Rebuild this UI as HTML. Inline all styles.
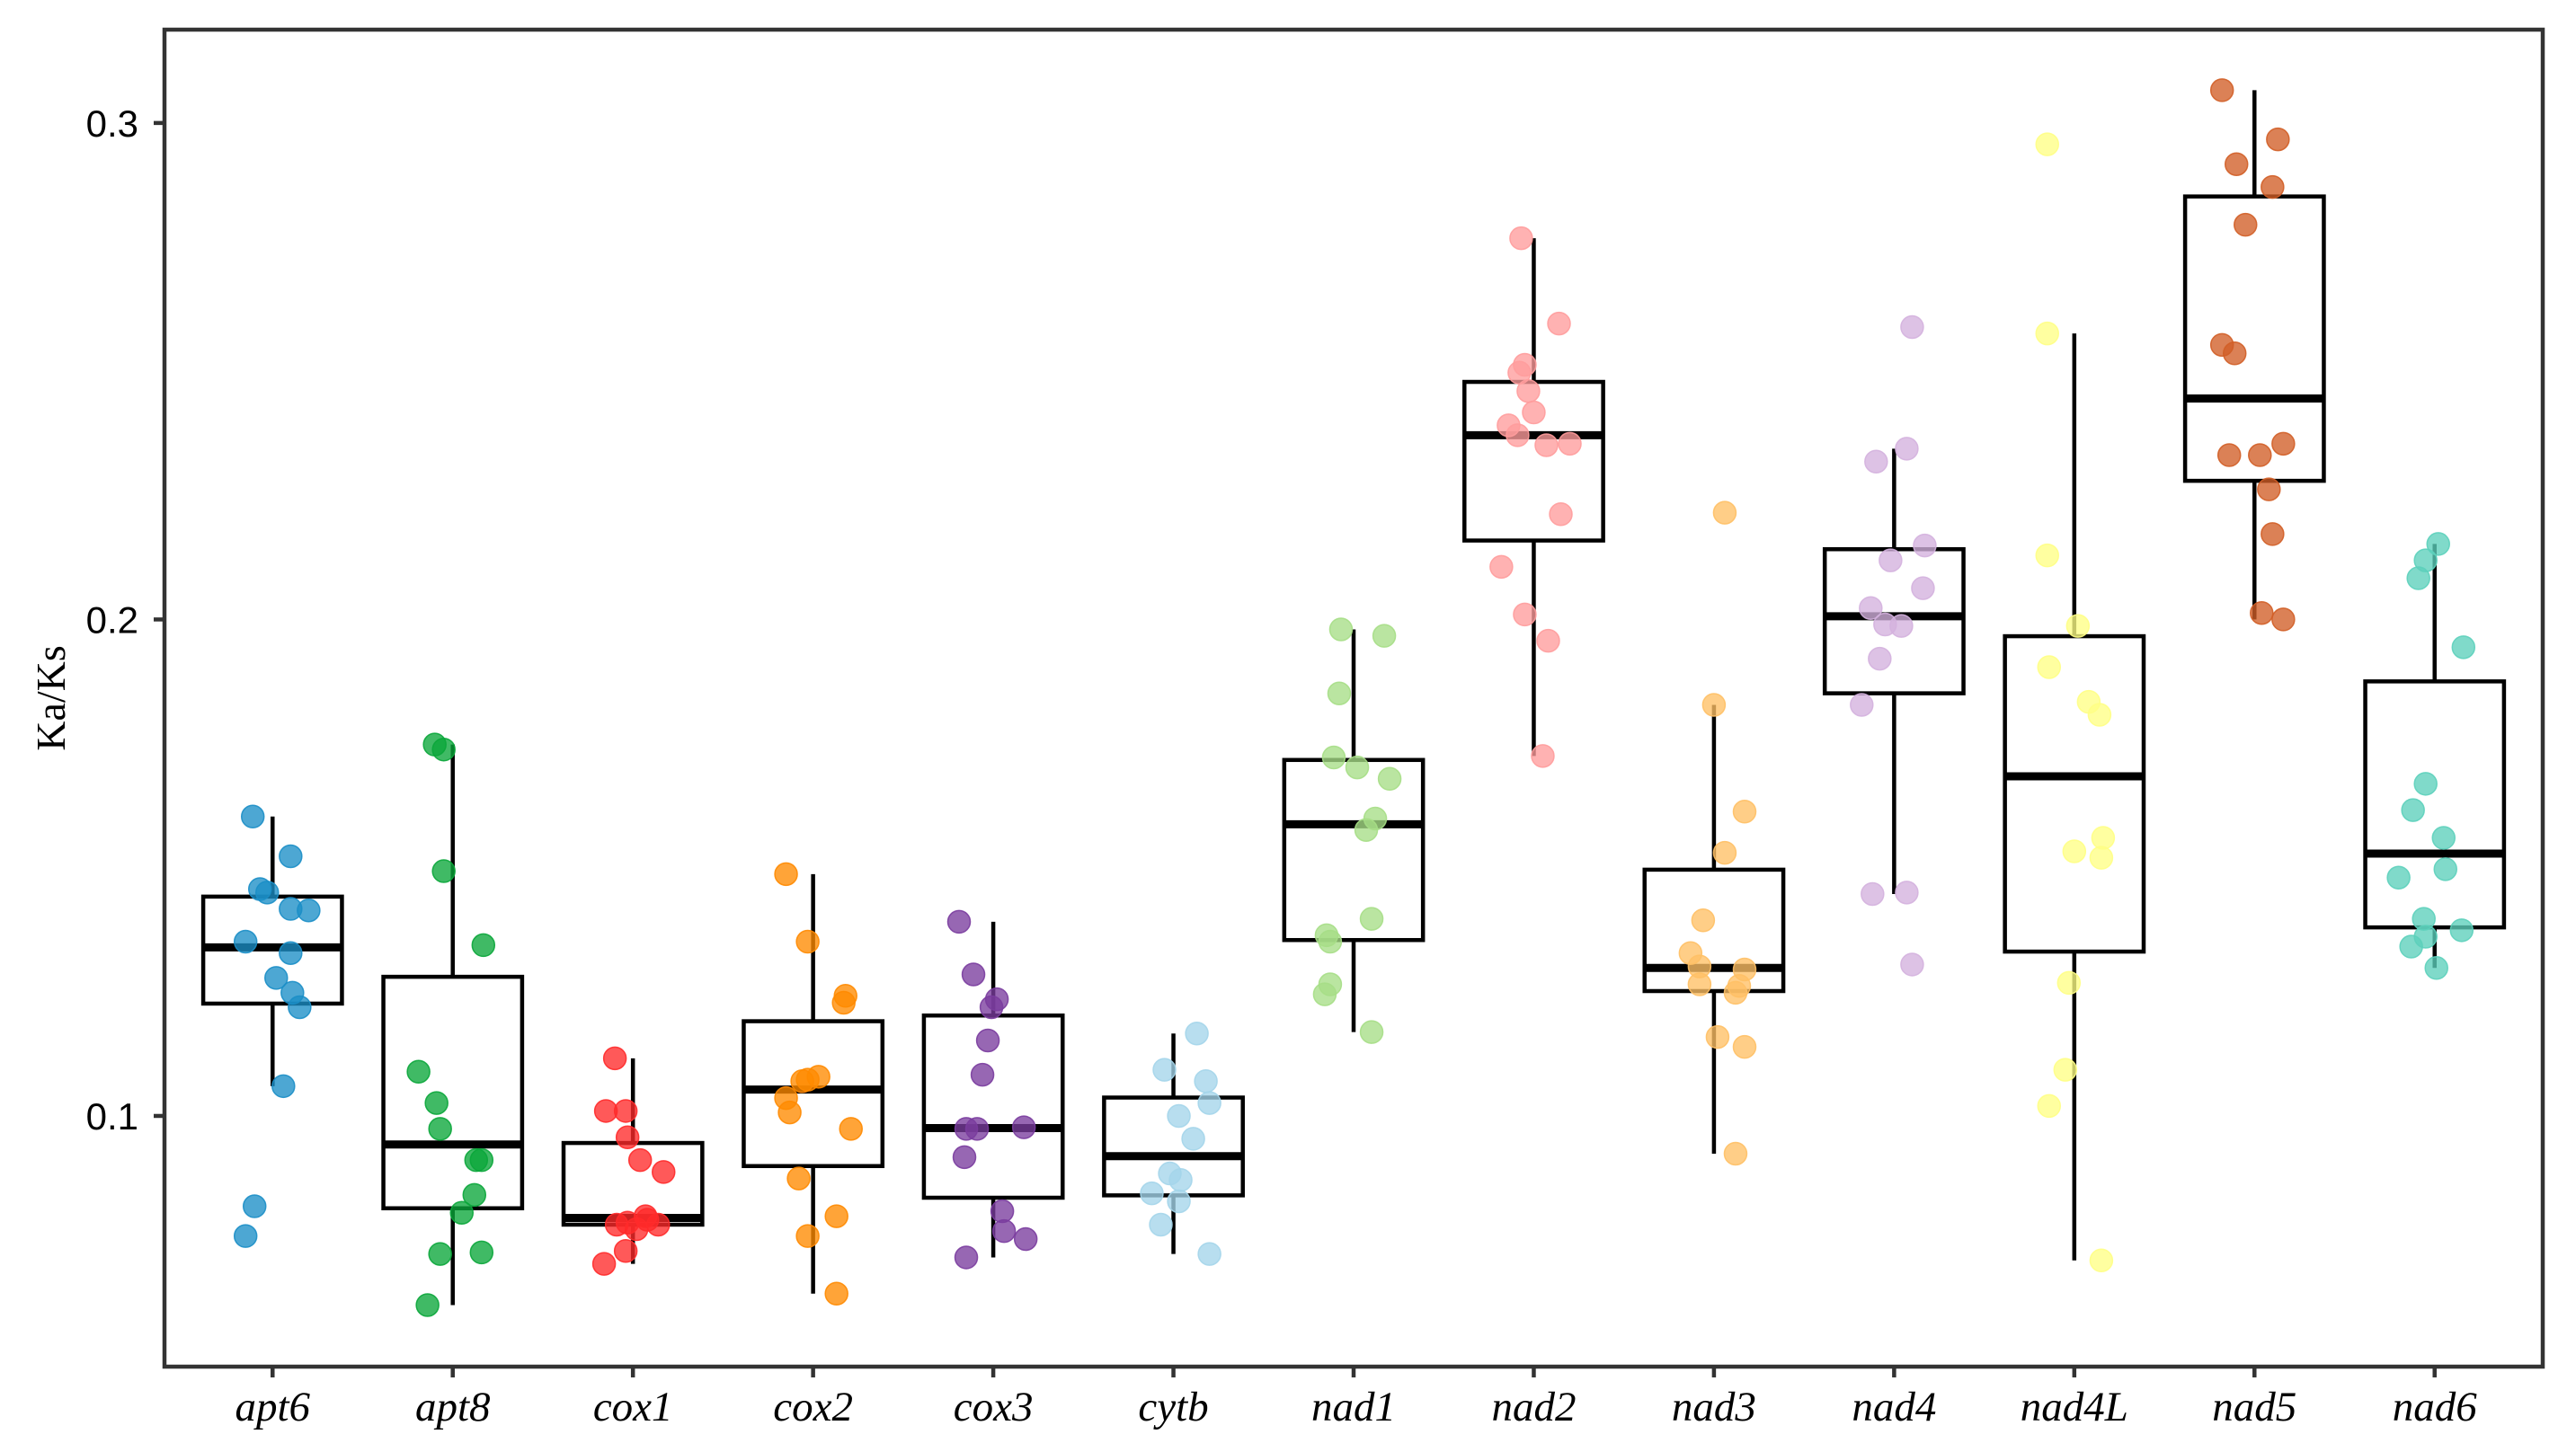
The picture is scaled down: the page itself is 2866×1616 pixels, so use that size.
<!DOCTYPE html>
<html><head><meta charset="utf-8"><style>
html,body{margin:0;padding:0;background:#fff;}
svg{display:block;}
</style></head><body>
<svg id="chart" width="2866" height="1616" viewBox="0 0 2866 1616" xmlns="http://www.w3.org/2000/svg"></svg>
<script>
const categories = ["apt6","apt8","cox1","cox2","cox3","cytb","nad1","nad2","nad3","nad4","nad4L","nad5","nad6"];
const colors = ["#1b8ec6","#0aa63a","#ff2a2a","#ff8a00","#7a3c9e","#a4d5ea","#a6de86","#ff9c9c","#ffc065","#d4b1de","#ffff85","#d15e26","#5cd0bb"];
const yTicks = [0.1,0.2,0.3];
const yTickLabels = ["0.1","0.2","0.3"];
const vApt6 = [0.1603,0.1457,0.1450,0.1523,0.1351,0.1417,0.1414,0.1328,0.1278,0.1248,0.1219,0.1060,0.0818,0.0758];
const vApt8 = [0.1748,0.1738,0.1493,0.1344,0.1089,0.1026,0.0974,0.0911,0.0911,0.0841,0.0805,0.0725,0.0722,0.0619];
const vCox1 = [0.1116,0.1010,0.1010,0.0957,0.0911,0.0887,0.0785,0.0791,0.0798,0.0781,0.0781,0.0772,0.0728,0.0702];
const vCox2 = [0.1487,0.1351,0.1242,0.1228,0.1079,0.1073,0.1070,0.1036,0.1007,0.0974,0.0874,0.0798,0.0758,0.0642];
const vCox3 = [0.1391,0.1285,0.1235,0.1219,0.1152,0.1083,0.0974,0.0974,0.0977,0.0917,0.0808,0.0768,0.0752,0.0715];
const vCytb = [0.1166,0.1093,0.1070,0.1026,0.1000,0.0954,0.0884,0.0871,0.0844,0.0828,0.0781,0.0722];
const vNad1 = [0.1980,0.1967,0.1851,0.1722,0.1702,0.1679,0.1599,0.1576,0.1397,0.1364,0.1351,0.1265,0.1245,0.1169];
const vNad2 = [0.2768,0.2596,0.2513,0.2497,0.2460,0.2417,0.2391,0.2354,0.2351,0.2371,0.2212,0.2106,0.2010,0.1957,0.1725];
const vNad3 = [0.2215,0.1828,0.1613,0.1530,0.1394,0.1328,0.1301,0.1295,0.1265,0.1248,0.1262,0.1159,0.1139,0.0924];
const vNad4 = [0.2589,0.2344,0.2318,0.2149,0.2119,0.2023,0.2063,0.1990,0.1987,0.1921,0.1828,0.1447,0.1450,0.1305];
const vNad4L = [0.2957,0.2576,0.2129,0.1987,0.1904,0.1834,0.1808,0.1560,0.1533,0.1520,0.1268,0.1093,0.1020,0.0709];
const vNad5 = [0.3066,0.2967,0.2917,0.2871,0.2795,0.2553,0.2536,0.2331,0.2331,0.2354,0.2262,0.2172,0.2013,0.2000];
const vNad6 = [0.2152,0.2119,0.2083,0.1944,0.1669,0.1616,0.1560,0.1497,0.1480,0.1397,0.1374,0.1361,0.1341,0.1298];
const jApt6 = [-0.11,-0.07,-0.03,0.10,-0.15,0.10,0.20,0.10,0.02,0.11,0.15,0.06,-0.10,-0.15];
const jApt8 = [-0.10,-0.05,-0.05,0.17,-0.19,-0.09,-0.07,0.13,0.16,0.12,0.05,0.16,-0.07,-0.14];
const jCox1 = [-0.10,-0.04,-0.15,-0.03,0.04,0.17,-0.03,0.08,0.07,0.14,-0.09,0.02,-0.04,-0.16];
const jCox2 = [-0.15,-0.03,0.18,0.17,0.03,-0.03,-0.06,-0.15,-0.13,0.21,-0.08,0.13,-0.03,0.13];
const jCox3 = [-0.19,-0.11,0.02,-0.01,-0.03,-0.06,-0.15,-0.09,0.17,-0.16,0.05,0.06,0.18,-0.15];
const jCytb = [0.13,-0.05,0.18,0.20,0.03,0.11,-0.02,0.04,-0.12,0.03,-0.07,0.20];
const jNad1 = [-0.07,0.17,-0.08,-0.11,0.02,0.20,0.12,0.07,0.10,-0.15,-0.13,-0.13,-0.16,0.10];
const jNad2 = [-0.07,0.14,-0.05,-0.08,-0.03,0.00,-0.14,0.20,0.07,-0.09,0.15,-0.18,-0.05,0.08,0.05];
const jNad3 = [0.06,0.00,0.17,0.06,-0.06,-0.13,-0.08,0.17,-0.08,0.12,0.14,0.02,0.17,0.12];
const jNad4 = [0.10,0.07,-0.10,0.17,-0.02,-0.13,0.16,-0.05,0.04,-0.08,-0.18,-0.12,0.07,0.10];
const jNad4L = [-0.15,-0.15,-0.15,0.02,-0.14,0.08,0.14,0.16,0.00,0.15,-0.03,-0.05,-0.14,0.15];
const jNad5 = [-0.18,0.13,-0.10,0.10,-0.05,-0.18,-0.11,-0.14,0.03,0.16,0.08,0.10,0.04,0.16];
const jNad6 = [0.02,-0.05,-0.09,0.16,-0.05,-0.12,0.05,0.06,-0.20,-0.06,0.15,-0.05,-0.13,0.01];
const seriesValues = [vApt6,vApt8,vCox1,vCox2,vCox3,vCytb,vNad1,vNad2,vNad3,vNad4,vNad4L,vNad5,vNad6];
const seriesJitter = [jApt6,jApt8,jCox1,jCox2,jCox3,jCytb,jNad1,jNad2,jNad3,jNad4,jNad4L,jNad5,jNad6];

const NS="http://www.w3.org/2000/svg";
const svg=document.getElementById('chart');
const L=183,T=33,R=2829,B=1521;
const yMin=0.0495,yMax=0.3188;
const unit=(R-L)/(categories.length+0.2);
function xs(i){return L+(i+0.6)*unit;}
function ys(v){return B-(v-yMin)/(yMax-yMin)*(B-T);}
function mk(tag,attrs,parent){const e=document.createElementNS(NS,tag);for(const k in attrs)e.setAttribute(k,attrs[k]);(parent||svg).appendChild(e);return e;}
function q(sorted,p){const h=(sorted.length-1)*p;const lo=Math.floor(h),hi=Math.ceil(h);return sorted[lo]+(sorted[hi]-sorted[lo])*(h-lo);}

const boxesG=mk('g',{});


categories.forEach((c,i)=>{
  const s=[...seriesValues[i]].sort((a,b)=>a-b);
  const q1=q(s,0.25),md=q(s,0.5),q3=q(s,0.75),iqr=q3-q1;
  const lo=Math.min(...s.filter(v=>v>=q1-1.5*iqr)),hi=Math.max(...s.filter(v=>v<=q3+1.5*iqr));
  const g=mk('g',{},boxesG);
  
  
  const cx=xs(i),hw=unit*0.385;
  mk('line',{x1:cx,x2:cx,y1:ys(hi),y2:ys(q3),stroke:'#000','stroke-width':4.5},g);
  mk('line',{x1:cx,x2:cx,y1:ys(q1),y2:ys(lo),stroke:'#000','stroke-width':4.5},g);
  mk('rect',{x:cx-hw,y:ys(q3),width:2*hw,height:ys(q1)-ys(q3),fill:'#fff',stroke:'#000','stroke-width':4.5},g);
  mk('line',{x1:cx-hw,x2:cx+hw,y1:ys(md),y2:ys(md),stroke:'#000','stroke-width':9},g);
});
const ptsG=mk('g',{});


categories.forEach((c,i)=>{
  seriesValues[i].forEach((v,k)=>{
    const p=mk('circle',{cx:xs(i)+seriesJitter[i][k]*unit,cy:ys(v),r:12.5,fill:colors[i],'fill-opacity':0.78,stroke:colors[i],'stroke-opacity':0.9,'stroke-width':1.5},ptsG);
    
    
  });
});
const border=mk('rect',{x:L,y:T,width:R-L,height:B-T,fill:'none',stroke:'#333','stroke-width':4.5});


yTicks.forEach((v,k)=>{
  const t=mk('line',{x1:L-12,x2:L,y1:ys(v),y2:ys(v),stroke:'#333','stroke-width':4.5});
  
  
  const tx=mk('text',{x:L-29,y:ys(v)+15,'text-anchor':'end','font-family':'Liberation Sans, sans-serif','font-size':42,fill:'#000'});
  tx.textContent=yTickLabels[k];
  
  
});
categories.forEach((c,i)=>{
  const t=mk('line',{x1:xs(i),x2:xs(i),y1:B,y2:B+12,stroke:'#333','stroke-width':4.5});
  
  
  const tx=mk('text',{x:xs(i),y:1581,'text-anchor':'middle','font-family':'Liberation Serif, serif','font-style':'italic','font-size':47,fill:'#000'});
  tx.textContent=c;
  
  
});
const yt=mk('text',{transform:`translate(72,${(T+B)/2}) rotate(-90)`,'text-anchor':'middle','font-family':'Liberation Serif, serif','font-size':46,fill:'#000'});
yt.textContent='Ka/Ks';


</script>
</body></html>
